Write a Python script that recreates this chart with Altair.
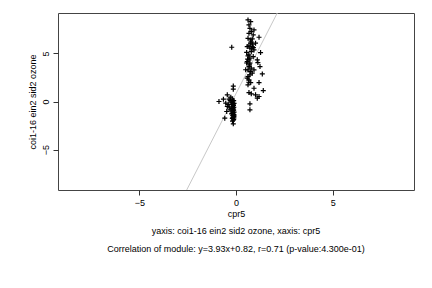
import altair as alt
import pandas as pd

# upper cluster and outlier (cpr5, coi1-16 ein2 sid2 ozone)
x_up = [0.62, 0.76, 0.67, 0.72, 0.79, 0.93, 0.67, 0.89, 1.19, 0.62, 0.76, 1.01, 0.58, 0.84, 0.72,
        0.93, 0.79, 1.27, 0.67, 0.89, 0.67, 0.58, 0.72, 1.10, 1.13, 0.67, 0.79, 0.93, 1.24, 0.62,
        0.84, 0.72, 1.36, 0.58, 0.67, 0.76, 1.19, 0.62, 0.93, 1.41, 0.67, 0.79, 1.01, 1.19, 1.10,
        0.72, 0.72, 0.55, 0.62, 0.76, 0.67, 0.81, 0.55, 0.62, 0.72, 0.84, 0.50, 0.86, 0.74, 0.66,
        0.90, 0.60, 0.78, 0.70, -0.22]
y_up = [8.48, 8.30, 7.96, 7.61, 7.27, 7.44, 7.09, 6.92, 6.68, 6.57, 6.40, 6.06, 5.71, 5.71, 5.54,
        5.36, 5.19, 5.09, 4.84, 4.67, 4.33, 4.15, 3.98, 4.33, 4.05, 3.63, 3.46, 3.29, 3.63, 3.29,
        2.94, 2.77, 2.87, 2.42, 2.25, 1.97, 1.97, 1.73, 1.38, 1.14, 0.93, 0.80, 0.69, 0.52, 0.35,
        -0.24, -0.87, 5.10, 4.75, 6.06, 5.85, 5.50, 4.00, 2.60, 4.50, 6.50, 3.30, 5.95, 3.10, 2.00,
        5.60, 4.40, 6.20, 3.80, 5.64]

# lower cluster
x_lo = [-0.14, -0.14, -0.45, -0.27, -0.88, -0.65, -0.53, -0.45, -0.36, -0.58, -0.14, -0.31, -0.48,
        -0.19, -0.12, -0.16, -0.10, -0.20, -0.13, -0.17, -0.11, -0.19, -0.14, -0.12, -0.18, -0.10,
        -0.15, -0.21, -0.13, -0.17, -0.11, -0.16, -0.19, -0.12, -0.14, -0.18, -0.10, -0.15, -0.13,
        -0.20, -0.16, -0.11, -0.14, -0.18, -0.12, -0.24, -0.30, -0.40, -0.22, -0.35]
y_lo = [1.60, 1.28, 0.69, 0.45, 0.00, 0.24, -0.17, -0.52, 0.24, -1.73, -2.32, -0.87, -1.04,
        0.25, 0.10, -0.05, -0.20, -0.30, -0.40, -0.50, -0.60, -0.70, -0.80, -0.90, -1.00, -1.10,
        -1.20, -1.25, -1.35, -1.45, -1.55, -1.65, -1.75, -1.85, -1.95, -2.05, -1.40, -0.95, -0.65,
        -0.15, -1.15, -1.70, -0.35, -0.75, -1.50, -0.05, 0.10, -0.30, -1.30, -0.60]

xs = x_up + x_lo
ys = y_up + y_lo

slope = 3.93
intercept = 0.82
x_domain = [-9.2, 9.2]
y_domain = [-9.2, 9.2]

x_title = "cpr5"
y_title = "coi1-16 ein2 sid2 ozone"
notes = ["yaxis: coi1-16 ein2 sid2 ozone, xaxis: cpr5",
         "Correlation of module: y=3.93x+0.82, r=0.71 (p-value:4.300e-01)"]

FONT = "Liberation Sans"
FS = 9

pts = pd.DataFrame({"x": xs, "y": ys})
fit = pd.DataFrame({"x": x_domain, "y": [slope * v + intercept for v in x_domain]})

xscale = alt.Scale(domain=x_domain, nice=False, zero=False)
yscale = alt.Scale(domain=y_domain, nice=False, zero=False)

xaxis = alt.Axis(values=[-5, 0, 5], title=x_title, grid=False, domain=False,
                 tickColor="#333", tickSize=5, labelFont=FONT, labelFontSize=FS,
                 labelColor="#000", labelPadding=3, titleFont=FONT, titleFontSize=FS,
                 titleFontWeight="normal", titleColor="#000", titlePadding=2)
yaxis = alt.Axis(values=[-5, 0, 5], title=y_title, grid=False, domain=False,
                 tickColor="#333", tickSize=5, labelFont=FONT, labelFontSize=FS,
                 labelColor="#000", labelAngle=270, labelAlign="center",
                 labelBaseline="bottom", labelPadding=3, titleFont=FONT,
                 titleFontSize=FS, titleFontWeight="normal", titleColor="#000",
                 titlePadding=4)

line = alt.Chart(fit).mark_line(color="#c8c8c8", strokeWidth=1, clip=True).encode(
    x=alt.X("x:Q", scale=xscale, axis=xaxis),
    y=alt.Y("y:Q", scale=yscale, axis=yaxis),
)

points = alt.Chart(pts).mark_point(
    shape="M-1,0H1M0,-1V1", filled=False, color="black", strokeWidth=1.2, size=25, opacity=1
).encode(
    x=alt.X("x:Q", scale=xscale),
    y=alt.Y("y:Q", scale=yscale),
)

note_df = pd.DataFrame({"t": notes, "yy": [218, 235.5]})
texts = alt.Chart(note_df).mark_text(font=FONT, fontSize=FS, color="#000",
                                     align="center", baseline="middle").encode(
    x=alt.value(178),
    y=alt.Y("yy:Q", scale=None),
    text="t:N",
)

chart = alt.layer(line, points, texts).properties(
    width=356, height=177,
    padding={"left": 58, "top": 13, "right": 18, "bottom": 98},
    autosize=alt.AutoSizeParams(type="none"),
    background="white",
).configure_view(stroke="#444", strokeWidth=1)

chart.save("out.html", embed_options={"renderer": "svg", "actions": False})
